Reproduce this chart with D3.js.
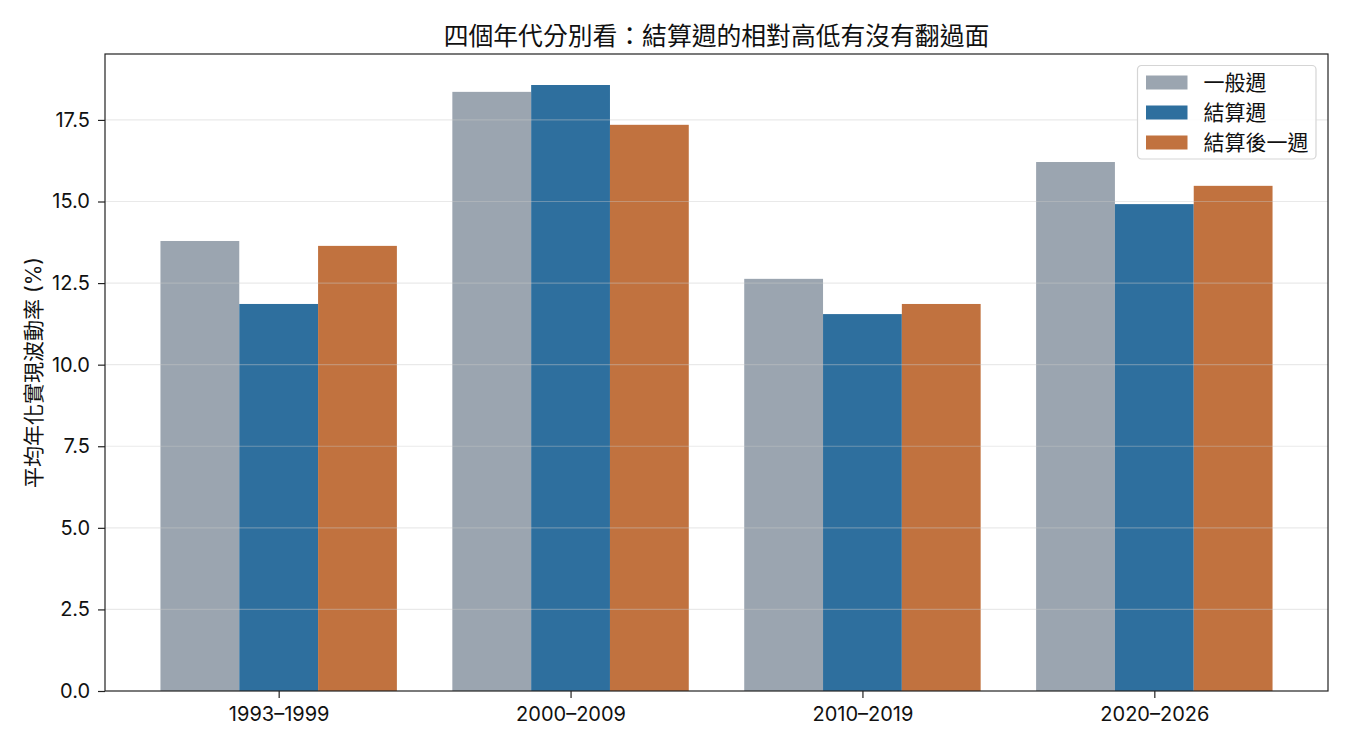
<!DOCTYPE html>
<html><head><meta charset="utf-8">
<script src="https://cdn.jsdelivr.net/npm/d3@7"></script>
<style>
body{margin:0;background:#fff;}
text{font-family:Inter,"Noto Sans CJK TC",sans-serif;fill:#111;}
</style></head>
<body><svg id="c" width="1350" height="750"></svg>
<script>
const categories = ["1993–1999","2000–2009","2010–2019","2020–2026"];
const seriesNames = ["一般週","結算週","結算後一週"];
const normalWeek = [13.79, 18.36, 12.63, 16.21];
const settleWeek = [11.86, 18.57, 11.55, 14.92];
const afterWeek = [13.64, 17.35, 11.86, 15.48];
const yTicks = [0,2.5,5,7.5,10,12.5,15,17.5];
const colors = ["#9ba5b0","#2e6f9e","#c1723f"];
const series = [normalWeek, settleWeek, afterWeek];

const svg = d3.select("#c");
const L=105, R=1328, T=54, B=691;
const barW = 0.27;
const x = d3.scaleLinear().domain([-0.595, 3.595]).range([L,R]);
const y = d3.scaleLinear().domain([0, 19.52]).range([B,T]);

// bars
series.forEach((s,si)=>{
  svg.append("g").selectAll("rect").data(s).join("rect")
    .attr("x",(d,i)=>x(i+(si-1)*barW-barW/2))
    .attr("width",(d,i)=>x(i+(si-1)*barW+barW/2)-x(i+(si-1)*barW-barW/2))
    .attr("y",d=>y(d)).attr("height",d=>B-y(d))
    .attr("fill",colors[si]);
});
// grid on top
svg.append("g").selectAll("line").data(yTicks.slice(1)).join("line")
  .attr("x1",L).attr("x2",R).attr("y1",d=>y(d)).attr("y2",d=>y(d))
  .attr("stroke","#c8c8c8").attr("stroke-opacity",0.4).attr("stroke-width",1.2);

// axes
const yAxis = d3.axisLeft(y).tickValues(yTicks).tickFormat(d3.format(".1f")).tickSize(7).tickPadding(8);
const gy = svg.append("g").attr("transform",`translate(${L},0)`).call(yAxis);
const xAxis = d3.axisBottom(x).tickValues([0,1,2,3]).tickFormat(i=>categories[i]).tickSize(7).tickPadding(9);
const gx = svg.append("g").attr("transform",`translate(0,${B})`).call(xAxis);
[gy,gx].forEach(g=>{
  g.select(".domain").remove();
  g.selectAll(".tick line").attr("stroke","#222").attr("stroke-width",1.2);
  g.selectAll("text").attr("font-size",20).attr("fill","#111").style("font-family","Inter,'Noto Sans CJK TC',sans-serif");
});
svg.append("rect").attr("x",L).attr("y",T).attr("width",R-L).attr("height",B-T)
  .attr("fill","none").attr("stroke","#222").attr("stroke-width",1.2);

// title
svg.append("text").attr("x",(L+R)/2).attr("y",45).attr("text-anchor","middle")
  .attr("font-size",24.8).text("四個年代分別看：結算週的相對高低有沒有翻過面");
// y label
svg.append("text").attr("transform",`translate(41,${(T+B)/2}) rotate(-90)`)
  .attr("text-anchor","middle").attr("font-size",21).text("平均年化實現波動率 (%)");

// legend
const lg = svg.append("g").attr("transform","translate(1137.5,65.5)");
lg.append("rect").attr("width",178.5).attr("height",93.5).attr("rx",4)
  .attr("fill","#fff").attr("fill-opacity",0.85).attr("stroke","#d5d5d5").attr("stroke-width",1.2);
seriesNames.forEach((n,i)=>{
  lg.append("rect").attr("x",8.5).attr("y",10+i*30).attr("width",41.5).attr("height",14).attr("fill",colors[i]);
  lg.append("text").attr("x",66).attr("y",24.5+i*30).attr("font-size",21).text(n);
});
</script></body></html>
